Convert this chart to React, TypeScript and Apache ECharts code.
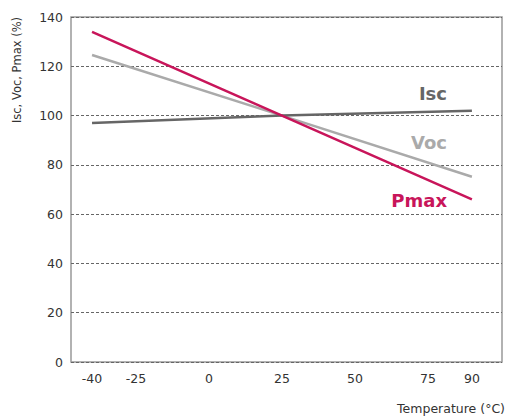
import React, { useEffect, useRef } from "react";
import * as echarts from "echarts";

const temperatures = [-40, 25, 90];
const iscValues = [97, 100, 102];
const vocValues = [124.6, 100, 75.2];
const pmaxValues = [134, 100, 66];
const xTickLabels = [-40, -25, 0, 25, 50, 75, 90];
const yTicks = [0, 20, 40, 60, 80, 100, 120, 140];

const FONT = "'DejaVu Sans'";

export default function App() {
  const ref = useRef<HTMLDivElement>(null);
  useEffect(() => {
    if (!ref.current) return;
    const chart = echarts.init(ref.current, null, { renderer: "svg" });
    const mk = (vals: number[]) => temperatures.map((t, i) => [t, vals[i]]);
    chart.setOption({
      animation: false,
      textStyle: { fontFamily: FONT },
      grid: {
        left: 71,
        right: 7,
        top: 17,
        bottom: 57,
        show: true,
        borderColor: "#999",
        borderWidth: 1.5,
      },
      xAxis: {
        type: "value",
        min: -47.2,
        max: 100.3,
        axisLine: { show: false },
        axisTick: { show: false },
        splitLine: { show: false },
        axisLabel: {
          customValues: xTickLabels,
          color: "#333",
          fontSize: 12.5,
          margin: 10,
          fontFamily: FONT,
        },
      },
      yAxis: {
        type: "value",
        min: yTicks[0],
        max: yTicks[yTicks.length - 1],
        interval: 20,
        axisLine: { show: false },
        axisTick: { show: false },
        axisLabel: { color: "#333", fontSize: 12.5, margin: 8, fontFamily: FONT },
        splitLine: {
          show: true,
          lineStyle: { color: "#666", width: 1, type: [3, 2] },
        },
      },
      series: [
        {
          type: "line",
          name: "Voc",
          data: mk(vocValues),
          symbol: "none",
          lineStyle: { color: "#aaaaaa", width: 2.5 },
        },
        {
          type: "line",
          name: "Isc",
          data: mk(iscValues),
          symbol: "none",
          lineStyle: { color: "#666666", width: 2.5 },
        },
        {
          type: "line",
          name: "Pmax",
          data: mk(pmaxValues),
          symbol: "none",
          lineStyle: { color: "#c8155a", width: 2.5 },
        },
      ],
      graphic: [
        {
          type: "text",
          x: 17,
          y: 70,
          rotation: Math.PI / 2,
          style: {
            text: "Isc, Voc, Pmax (%)",
            fill: "#333",
            font: `11.5px ${FONT}`,
            textAlign: "center",
            textVerticalAlign: "middle",
          },
        },
        {
          type: "text",
          x: 505,
          y: 408,
          style: {
            text: "Temperature (°C)",
            fill: "#333",
            font: `12.5px ${FONT}`,
            textAlign: "right",
            textVerticalAlign: "middle",
          },
        },
        {
          type: "text",
          x: 447,
          y: 93,
          style: {
            text: "Isc",
            fill: "#666",
            font: `bold 18px ${FONT}`,
            textAlign: "right",
            textVerticalAlign: "middle",
          },
        },
        {
          type: "text",
          x: 447,
          y: 142,
          style: {
            text: "Voc",
            fill: "#aaa",
            font: `bold 18px ${FONT}`,
            textAlign: "right",
            textVerticalAlign: "middle",
          },
        },
        {
          type: "text",
          x: 447,
          y: 200,
          style: {
            text: "Pmax",
            fill: "#c8155a",
            font: `bold 18px ${FONT}`,
            textAlign: "right",
            textVerticalAlign: "middle",
          },
        },
      ],
    });
    return () => chart.dispose();
  }, []);
  return <div ref={ref} style={{ width: 509, height: 419, position: "absolute", left: 0, top: 0 }} />;
}
